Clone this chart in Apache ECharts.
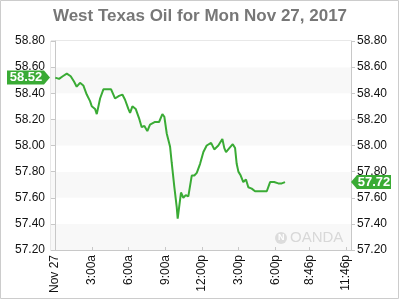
<!DOCTYPE html>
<html>
<head>
<meta charset="utf-8">
<script src="https://cdn.jsdelivr.net/npm/echarts@6/dist/echarts.min.js"></script>
<style>html,body{margin:0;padding:0;background:#fff}#c{width:400px;height:300px}</style>
</head>
<body>
<div id="c"></div>
<script>
var titleText = 'West Texas Oil for Mon Nov 27, 2017';
var hours = [0.02,0.33,0.63,0.96,1.28,1.55,1.77,2.04,2.31,2.59,2.86,3.0,3.13,3.27,3.41,3.68,3.95,4.27,4.58,4.71,4.90,5.23,5.50,5.72,5.99,6.13,6.32,6.59,6.86,7.08,7.30,7.54,7.76,8.17,8.50,8.77,8.93,9.13,9.40,9.53,9.75,9.94,10.02,10.29,10.48,10.68,10.89,11.17,11.38,11.58,11.85,12.12,12.39,12.75,13.01,13.34,13.67,13.83,13.97,14.24,14.52,14.71,14.84,14.98,15.17,15.38,15.60,15.79,16.07,16.34,17.30,17.57,17.90,18.24,18.52,18.79];
var prices = [58.52,58.51,58.53,58.55,58.53,58.49,58.45,58.48,58.46,58.39,58.34,58.30,58.31,58.28,58.24,58.36,58.43,58.43,58.43,58.42,58.36,58.38,58.39,58.35,58.28,58.25,58.30,58.28,58.21,58.14,58.15,58.11,58.16,58.18,58.18,58.24,58.22,58.09,57.99,57.87,57.68,57.53,57.44,57.64,57.60,57.62,57.61,57.77,57.77,57.79,57.86,57.95,58.00,58.02,57.97,58.00,58.05,57.98,57.95,57.98,58.01,57.98,57.86,57.80,57.77,57.72,57.74,57.68,57.67,57.65,57.65,57.72,57.72,57.71,57.71,57.72];
var tickHours = [0,3,6,9,12,15,18,20.767,23.767];
var tickLabels = ['Nov 27','3:00a','6:00a','9:00a','12:00p','3:00p','6:00p','8:46p','11:46p'];
var openPrice = 58.52;
var lastPrice = 57.72;

var green = '#3aab35';
var chart = echarts.init(document.getElementById('c'), null, {renderer:'canvas'});
var data = hours.map(function(h,i){return [h, prices[i]];});
var fontFam = '"Liberation Sans", Arial, sans-serif';
function yAxisCfg(pos, area){
  return {
    type:'value', position:pos, min:57.2, max:58.8, interval:0.2,
    axisLine:{show:true, lineStyle:{color:'#c8c8c8'}},
    axisTick:{show:true, length:4, lineStyle:{color:'#c8c8c8'}},
    splitLine:{show:false},
    splitArea:{show:area, areaStyle:{color:['#f8f8f8','#ffffff']}},
    axisLabel:{color:'#111', fontSize:12, fontFamily:fontFam, margin:6,
      formatter:function(v){return v.toFixed(2);}}
  };
}
chart.setOption({
  animation:false,
  backgroundColor:'#fff',
  title:{text:titleText, left:'center', top:3,
    textStyle:{color:'#777', fontSize:17, fontWeight:'bold', fontFamily:fontFam}},
  grid:{left:51, right:49, top:41, bottom:50, show:true, borderColor:'#d0d0d0', borderWidth:1, backgroundColor:'transparent'},
  xAxis:{type:'value', min:-0.33, max:24.18,
    axisLine:{show:true, lineStyle:{color:'#c8c8c8'}},
    splitLine:{show:false},
    axisTick:{show:true, inside:true, length:3, customValues:tickHours, lineStyle:{color:'#c8c8c8'}},
    axisLabel:{rotate:90, color:'#111', fontSize:12, fontFamily:fontFam, margin:5,
      customValues:tickHours,
      formatter:function(v){
        for (var i=0;i<tickHours.length;i++){ if (Math.abs(tickHours[i]-v)<0.01) return tickLabels[i]; }
        return '';
      }}
  },
  yAxis:[yAxisCfg('left', true), yAxisCfg('right', false)],
  series:[{type:'line', data:data, showSymbol:false, symbol:'none',
    lineStyle:{color:green, width:2}, itemStyle:{color:green}}]
});

var yOpen = chart.convertToPixel({yAxisIndex:0}, openPrice);
var yLast = chart.convertToPixel({yAxisIndex:0}, lastPrice);
chart.setOption({
  graphic:[
    {type:'rect', shape:{x:0.5,y:0.5,width:398,height:298}, style:{fill:'none', stroke:'#cccccc', lineWidth:1}, z:100},
    {type:'polygon', shape:{points:[[7,yOpen-7],[44,yOpen-7],[50,yOpen],[44,yOpen+7],[7,yOpen+7]]}, style:{fill:green}, z:100},
    {type:'text', x:26, y:yOpen, style:{text:String(openPrice.toFixed(2)), fill:'#fff', font:'bold 13px '+fontFam, align:'center', verticalAlign:'middle'}, z:101},
    {type:'polygon', shape:{points:[[351,yLast],[357,yLast-7],[391,yLast-7],[391,yLast+7],[357,yLast+7]]}, style:{fill:green}, z:100},
    {type:'text', x:374, y:yLast, style:{text:String(lastPrice.toFixed(2)), fill:'#fff', font:'bold 13px '+fontFam, align:'center', verticalAlign:'middle'}, z:101},
    {type:'circle', shape:{cx:281, cy:238, r:6}, style:{fill:'#dcdcdc'}, z:50},
    {type:'text', x:278, y:238, style:{text:'N', fill:'#fff', font:'bold 9px '+fontFam, verticalAlign:'middle'}, z:51},
    {type:'text', x:290, y:238, style:{text:'OANDA', fill:'#d8d8d8', font:'15px '+fontFam, verticalAlign:'middle'}, z:50}
  ]
});
</script>
</body>
</html>
